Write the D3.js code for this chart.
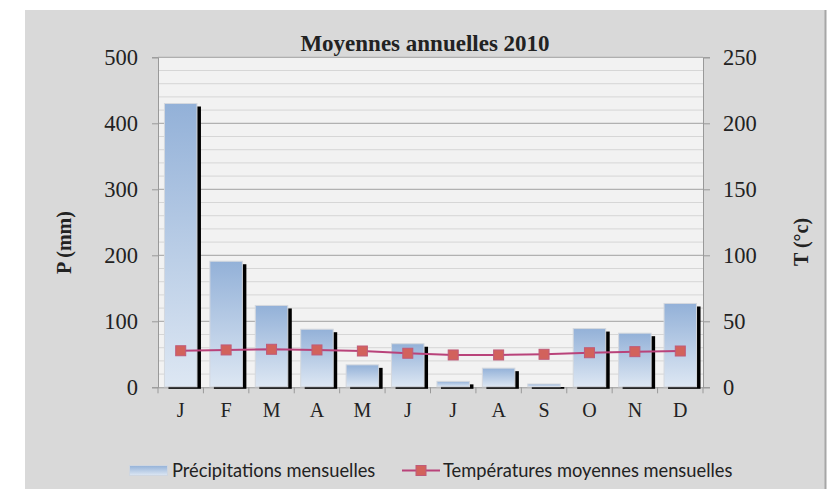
<!DOCTYPE html>
<html>
<head>
<meta charset="utf-8">
<script src="https://cdn.jsdelivr.net/npm/d3@7"></script>
<style>
  body { margin: 0; background: #fff; }
  svg { display: block; }
</style>
</head>
<body>
<svg></svg>
<script>
// monthly data, 2010
const months = ["J", "F", "M", "A", "M", "J", "J", "A", "S", "O", "N", "D"];
const precip = [430, 191, 124, 88, 34, 66, 9, 29, 5, 89, 82, 127];
const temp = [27.7, 28.3, 28.8, 28.3, 27.5, 25.8, 24.5, 24.5, 25, 26.2, 27, 27.5];
const pTicks = [0, 100, 200, 300, 400, 500];
const tTicks = [0, 50, 100, 150, 200, 250];

const size = { w: 829, h: 489 };
const plot = { l: 158, r: 703, t: 57.3, b: 387.3 };
const svg = d3.select("svg").attr("width", size.w).attr("height", size.h);

const serif = "'Liberation Serif', 'Times New Roman', serif";
const sans = "Lato, 'Open Sans', sans-serif";

// outer background
svg.append("rect").attr("x", 25).attr("y", 10)
  .attr("width", 800).attr("height", size.h - 10).attr("fill", "#d9d9d9");
svg.append("rect").attr("x", 824.5).attr("y", 10)
  .attr("width", 2).attr("height", size.h - 10).attr("fill", "#a6a6a6");

// gradient for bars
const defs = svg.append("defs");
const grad = defs.append("linearGradient").attr("id", "barGrad")
  .attr("x1", 0).attr("y1", 0).attr("x2", 0).attr("y2", 1);
grad.append("stop").attr("offset", "0%").attr("stop-color", "#93b1d8");
grad.append("stop").attr("offset", "100%").attr("stop-color", "#dde7f3");

const x = d3.scaleBand().domain(d3.range(months.length)).range([plot.l, plot.r]);
const yP = d3.scaleLinear().domain([0, 500]).range([plot.b, plot.t]);
const yT = d3.scaleLinear().domain([0, 250]).range([plot.b, plot.t]);

// plot area
svg.append("rect").attr("x", plot.l).attr("y", plot.t)
  .attr("width", plot.r - plot.l).attr("height", plot.b - plot.t)
  .attr("fill", "#f2f2f2");

// grid: minor every 20, major every 100
const gridG = svg.append("g");
gridG.selectAll("line.minor")
  .data(d3.range(20, 500, 20).filter(v => v % 100 !== 0))
  .join("line").classed("minor", true)
  .attr("x1", plot.l).attr("x2", plot.r)
  .attr("y1", d => yP(d)).attr("y2", d => yP(d))
  .attr("stroke", "#d6d6d6").attr("stroke-width", 1);
gridG.selectAll("line.major")
  .data(pTicks.filter(v => v > 0))
  .join("line").classed("major", true)
  .attr("x1", plot.l).attr("x2", plot.r)
  .attr("y1", d => yP(d)).attr("y2", d => yP(d))
  .attr("stroke", "#a0a0a0").attr("stroke-width", 1);

// axes
const leftAxis = svg.append("g").attr("transform", `translate(${plot.l},0)`)
  .call(d3.axisLeft(yP).tickValues(pTicks).tickSize(6).tickPadding(14));
const rightAxis = svg.append("g").attr("transform", `translate(${plot.r},0)`)
  .call(d3.axisRight(yT).tickValues(tTicks).tickSize(7).tickPadding(13));
const bottomAxis = svg.append("g").attr("transform", `translate(0,${plot.b})`)
  .call(d3.axisBottom(x).tickFormat(i => months[i]).tickSize(0).tickPadding(16));

[leftAxis, rightAxis, bottomAxis].forEach(g => {
  g.select(".domain").attr("stroke", "#999");
  g.selectAll(".tick line").attr("stroke", "#999");
  g.selectAll("text").attr("fill", "#222").style("font-family", serif);
});
leftAxis.selectAll("text").style("font-size", "22.5px");
rightAxis.selectAll("text").style("font-size", "22.5px");
bottomAxis.selectAll("text").style("font-size", "20px");

// category separators on the x axis
svg.append("g").selectAll("line")
  .data(d3.range(months.length + 1))
  .join("line")
  .attr("x1", i => plot.l + i * x.bandwidth()).attr("x2", i => plot.l + i * x.bandwidth())
  .attr("y1", plot.b).attr("y2", plot.b + 6)
  .attr("stroke", "#999");

// bars with black shadow
const barW = 32.5;
const barsG = svg.append("g");
barsG.selectAll("rect.shadow")
  .data(precip)
  .join("rect").classed("shadow", true)
  .attr("x", (d, i) => x(i) + x.bandwidth() / 2 - barW / 2 + 4)
  .attr("y", d => yP(d) + 3)
  .attr("width", barW)
  .attr("height", d => Math.max(0, yP(0) - yP(d) - 1.5))
  .attr("fill", "#000");
barsG.selectAll("rect.bar")
  .data(precip)
  .join("rect").classed("bar", true)
  .attr("x", (d, i) => x(i) + x.bandwidth() / 2 - barW / 2)
  .attr("y", d => yP(d))
  .attr("width", barW)
  .attr("height", d => yP(0) - yP(d) - 0.5)
  .attr("fill", "url(#barGrad)")
  .attr("stroke", "#d4d8de").attr("stroke-width", 1);

// temperature line
const line = d3.line()
  .x((d, i) => x(i) + x.bandwidth() / 2)
  .y(d => yT(d));
svg.append("path").datum(temp)
  .attr("d", line)
  .attr("fill", "none").attr("stroke", "#b9437a").attr("stroke-width", 2);
svg.append("g").selectAll("rect")
  .data(temp)
  .join("rect")
  .attr("x", (d, i) => x(i) + x.bandwidth() / 2 - 5)
  .attr("y", d => yT(d) - 5)
  .attr("width", 10).attr("height", 10)
  .attr("fill", "#d2625c").attr("stroke", "#c05a78").attr("stroke-width", 1);

// title and axis labels
svg.append("text").attr("x", 425).attr("y", 51)
  .attr("text-anchor", "middle")
  .style("font-family", serif).style("font-weight", "bold").style("font-size", "23px")
  .attr("fill", "#222").text("Moyennes annuelles 2010");
svg.append("text").attr("transform", "translate(71,242.5) rotate(-90)")
  .attr("text-anchor", "middle")
  .style("font-family", serif).style("font-weight", "bold").style("font-size", "20px")
  .attr("fill", "#222").text("P (mm)");
svg.append("text").attr("transform", "translate(808,242) rotate(-90)")
  .attr("text-anchor", "middle")
  .style("font-family", serif).style("font-weight", "bold").style("font-size", "20px")
  .attr("fill", "#222").text("T (°c)");

// legend
const legend = svg.append("g");
legend.append("rect").attr("x", 129.5).attr("y", 465.5).attr("width", 38).attr("height", 10)
  .attr("fill", "url(#barGrad)").attr("stroke", "#cfd6e0");
legend.append("text").attr("x", 172).attr("y", 477)
  .style("font-family", sans).style("font-size", "18.3px")
  .attr("fill", "#222").text("Précipitations mensuelles");
legend.append("line").attr("x1", 402).attr("x2", 440).attr("y1", 470.5).attr("y2", 470.5)
  .attr("stroke", "#b9437a").attr("stroke-width", 2);
legend.append("rect").attr("x", 416).attr("y", 465.5).attr("width", 10).attr("height", 10)
  .attr("fill", "#d2625c").attr("stroke", "#c05a78");
legend.append("text").attr("x", 443).attr("y", 477)
  .style("font-family", sans).style("font-size", "18.3px")
  .attr("fill", "#222").text("Températures moyennes mensuelles");
</script>
</body>
</html>
